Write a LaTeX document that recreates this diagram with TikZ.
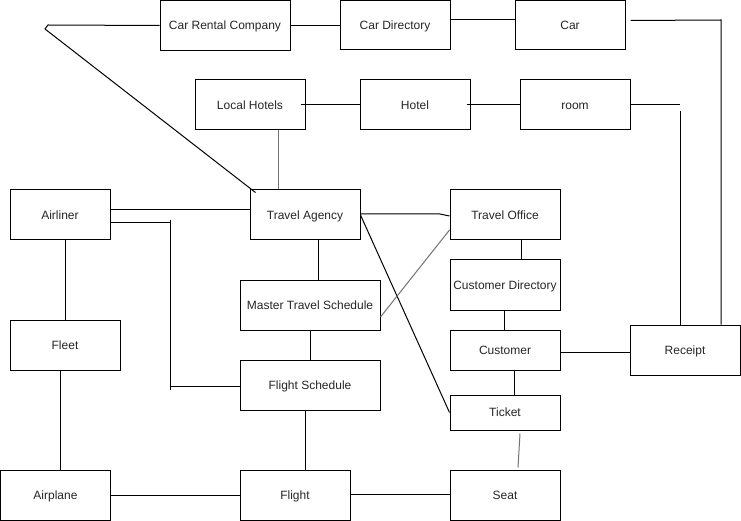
\documentclass[tikz,border=0pt]{standalone}
\usepackage{fontspec}
\setmainfont{Liberation Sans}
\begin{document}
\begin{tikzpicture}[x=1pt,y=-1pt,line width=1pt,
  box/.style={draw=black,fill=white,line width=1pt,inner sep=0pt,text height=9pt,text depth=0.5pt,font=\fontsize{12}{14}\selectfont,text=black!85},
  wide/.style={box,minimum width=110pt,minimum height=50pt},
  soft/.style={draw=black!55}]
\useasboundingbox[fill=white] (0,0) rectangle (741,521);
% nodes
\node[box,minimum width=130pt,minimum height=50pt] (crc) at (225,25.5) {Car Rental Company};
\node[wide,minimum height=49pt] (cardir) at (395,25.5) {Car Directory};
\node[wide,minimum height=49pt] (car) at (570,25.5) {Car};
\node[wide] (lh) at (250,105) {Local Hotels};
\node[wide] (hotel) at (415,105) {Hotel};
\node[wide] (room) at (575,105) {room};
\node[box,minimum width=100pt,minimum height=50pt] (airliner) at (60,215) {Airliner};
\node[wide] (ta) at (305,215) {Travel Agency};
\node[wide] (to) at (505,215) {Travel Office};
\node[wide] (cd) at (505,285) {Customer Directory};
\node[box,minimum width=140pt,minimum height=50pt] (mts) at (310,305) {Master Travel Schedule};
\node[wide] (fleet) at (65,345) {Fleet};
\node[box,minimum width=110pt,minimum height=40pt] (cust) at (505,350) {Customer};
\node[wide] (receipt) at (685,350) {Receipt};
\node[box,minimum width=140pt,minimum height=50pt] (fs) at (310,385) {Flight Schedule};
\node[box,minimum width=110pt,minimum height=35pt] (ticket) at (505,412.5) {Ticket};
\node[box,minimum width=110pt,minimum height=50pt] (airplane) at (55.5,495) {Airplane};
\node[wide] (flight) at (295,495) {Flight};
\node[wide] (seat) at (505,495) {Seat};
% bend points
\coordinate (k1) at (45,29);
\coordinate (k2) at (48,25);
\coordinate (c1) at (721,20);
\coordinate (r1) at (680,105);
\coordinate (r2) at (680,111);
\coordinate (lt) at (278,0);
\coordinate (a1) at (170,223);
\coordinate (a2) at (170,220);
\coordinate (a3) at (170,390);
\coordinate (a4) at (170,386);
\coordinate (t1) at (440,214);
% connectors
\draw ([shift={(6,3)}]ta.north west) -- (k1) -- (k2) -- (crc.west);
\draw (crc.east) -- (cardir.west);
\draw ([yshift=6pt]cardir.east) -- ([yshift=6pt]car.west);
\draw ([shift={(5pt,5pt)}]car.east) -- (c1) -- (c1 |- receipt.north);
\draw ([xshift=-5pt]lh.east) -- (hotel.west);
\draw ([xshift=-4pt]hotel.east) -- (room.west);
\draw (room.east) -- (r1);
\draw (r2) -- (r2 |- receipt.north);
\draw[soft] (lt |- lh.south) -- (lt |- ta.north);
\draw ([yshift=5pt]airliner.east) -- ([yshift=5pt]ta.west);
\draw ([yshift=-8pt]airliner.east) -- (a1);
\draw (a2) -- (a3);
\draw (a4) -- ([yshift=-1pt]fs.west);
\draw ([yshift=1pt]ta.east) -- (t1) -- ([yshift=-1pt]to.west);
\draw (ta.east) -- (ticket.west);
\draw[soft] ([yshift=-15pt]to.west) -- ([yshift=-12pt]mts.east);
\draw ([xshift=16pt]to.south) -- ([xshift=16pt]cd.north);
\draw ([xshift=-1pt]cd.south) -- ([xshift=-1pt]cust.north);
\draw ([yshift=-2pt]cust.east) -- ([yshift=-2pt]receipt.west);
\draw ([xshift=9pt]cust.south) -- ([xshift=9pt]ticket.north);
\draw[soft] ([shift={(15,3)}]ticket.south) -- ([shift={(13,-2)}]seat.north);
\draw ([xshift=13pt]ta.south) -- ([xshift=8pt]mts.north);
\draw (mts.south) -- (fs.north);
\draw ([xshift=-5pt]fs.south) -- ([xshift=10pt]flight.north);
\draw ([xshift=5pt]airliner.south) -- (fleet.north);
\draw ([xshift=-5pt]fleet.south) -- ([xshift=4.5pt]airplane.north);
\draw (airplane.east) -- (flight.west);
\draw ([yshift=1pt]flight.east) -- ([yshift=1pt]seat.west);
\end{tikzpicture}
\end{document}
